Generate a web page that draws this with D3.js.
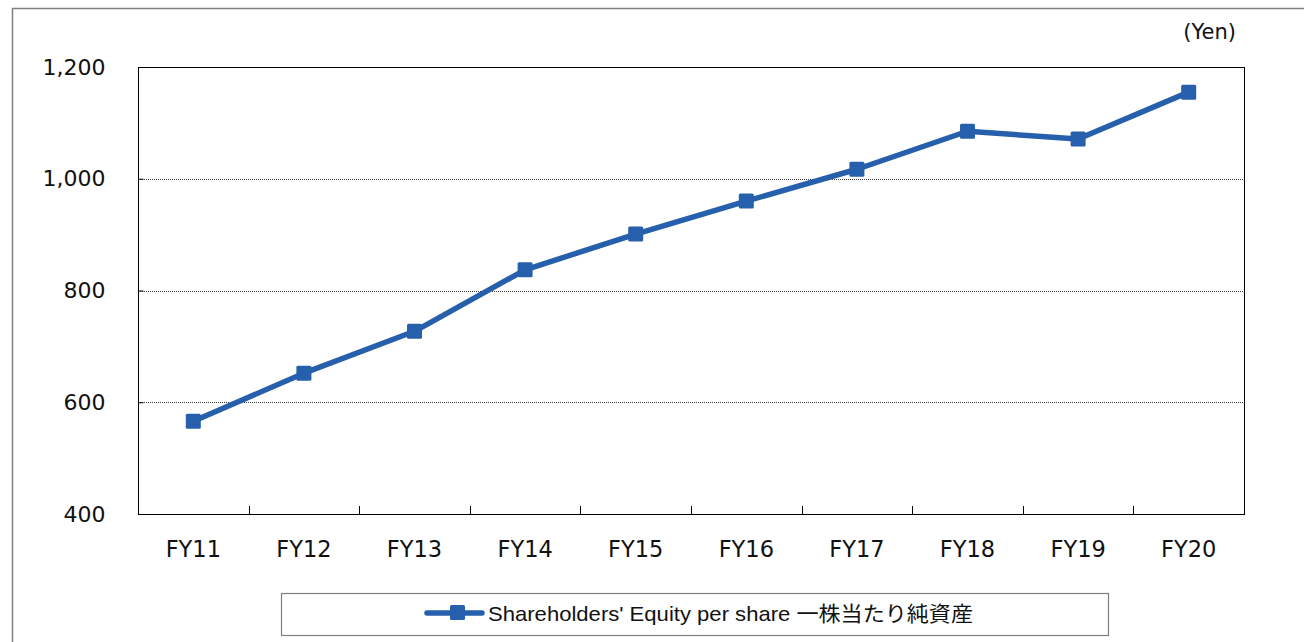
<!DOCTYPE html>
<html><head><meta charset="utf-8">
<script src="https://cdn.jsdelivr.net/npm/d3@7"></script>
<style>body{margin:0;background:#fff}svg{display:block}
.vf{font-family:"DejaVu Sans","Verdana",sans-serif}
.lg{font-family:"Liberation Sans Narrow","Liberation Sans","Noto Sans CJK JP",sans-serif}
</style>
</head><body>
<svg id="c" width="1304" height="642"></svg>
<script>
const categories = ["FY11","FY12","FY13","FY14","FY15","FY16","FY17","FY18","FY19","FY20"];
const values = [566, 652, 727, 837, 901, 960, 1017, 1085, 1071, 1155];
const yTicks = [400, 600, 800, 1000, 1200];
const seriesName = "Shareholders' Equity per share 一株当たり純資産";
const unitLabel = "(Yen)";

const svg = d3.select("#c");
const m = {left:138, top:67, right:1244, bottom:514};
const color = "#265fac";

// outer frame
svg.append("rect").attr("x",12.5).attr("y",8.5).attr("width",1320).attr("height",700)
  .attr("fill","none").attr("stroke","#7f7f7f").attr("stroke-width",1.5);

const x = d3.scaleBand().domain(categories).range([m.left, m.right]).padding(0);
const y = d3.scaleLinear().domain([400,1200]).range([m.bottom, m.top]);

// gridlines
svg.append("g").selectAll("line").data(yTicks.filter(d=>d>400 && d<1200)).join("line")
  .attr("x1",m.left).attr("x2",m.right).attr("y1",d=>Math.round(y(d))+0.5).attr("y2",d=>Math.round(y(d))+0.5)
  .attr("stroke","#404040").attr("stroke-width",1).attr("stroke-dasharray","1,1");

// plot frame
svg.append("rect").attr("x",m.left+0.5).attr("y",m.top+0.5)
  .attr("width",m.right-m.left).attr("height",m.bottom-m.top)
  .attr("fill","none").attr("stroke","#000").attr("stroke-width",1);

// y axis
const yAxis = d3.axisLeft(y).tickValues(yTicks).tickSize(-5).tickPadding(33)
  .tickFormat(d3.format(","));
const gy = svg.append("g").attr("transform",`translate(${m.left+0.5},0)`).call(yAxis);
gy.attr("font-family",null).attr("font-size",null).attr("class","vf");
gy.select(".domain").remove();
gy.selectAll("text").style("font-size","22px").attr("fill","#111");
gy.selectAll("line").attr("stroke","#000");

// x axis (labels)
const xAxis = d3.axisBottom(x).tickSize(0).tickPadding(27);
const gx = svg.append("g").attr("transform",`translate(0,${m.bottom})`).call(xAxis);
gx.attr("font-family",null).attr("font-size",null).attr("class","vf");
gx.select(".domain").remove();
gx.selectAll("text").style("font-size","22.5px").attr("fill","#111");

// x inside ticks at band boundaries
svg.append("g").selectAll("line").data(categories.slice(1)).join("line")
  .attr("x1",d=>Math.round(x(d))+0.5).attr("x2",d=>Math.round(x(d))+0.5)
  .attr("y1",m.bottom).attr("y2",m.bottom-8).attr("stroke","#000");

// unit label
svg.append("text").attr("class","vf").attr("x",1236).attr("y",39).attr("text-anchor","end")
  .style("font-size","21px").attr("fill","#111").text(unitLabel);

// line
const line = d3.line().x((d,i)=>x(categories[i])+x.bandwidth()/2).y(d=>y(d));
svg.append("path").datum(values).attr("d",line).attr("fill","none")
  .attr("stroke",color).attr("stroke-width",5.5).attr("stroke-linejoin","round");
svg.append("g").selectAll("rect").data(values).join("rect")
  .attr("x",(d,i)=>x(categories[i])+x.bandwidth()/2-7.5).attr("y",d=>y(d)-7.5)
  .attr("width",15).attr("height",15).attr("rx",1.5).attr("fill",color);

// legend
svg.append("rect").attr("x",281.5).attr("y",593.5).attr("width",827).attr("height",42)
  .attr("fill","#fff").attr("stroke","#7f7f7f").attr("stroke-width",1.2);
svg.append("line").attr("x1",427).attr("x2",482).attr("y1",613).attr("y2",613)
  .attr("stroke",color).attr("stroke-width",5.5).attr("stroke-linecap","round");
svg.append("rect").attr("x",450).attr("y",605).attr("width",15).attr("height",15).attr("rx",1.5).attr("fill",color);
svg.append("text").attr("class","lg").attr("x",488).attr("y",621)
  .style("font-size","21px").attr("fill","#111")
  .attr("textLength",485).attr("lengthAdjust","spacingAndGlyphs").text(seriesName);
</script>
</body></html>
